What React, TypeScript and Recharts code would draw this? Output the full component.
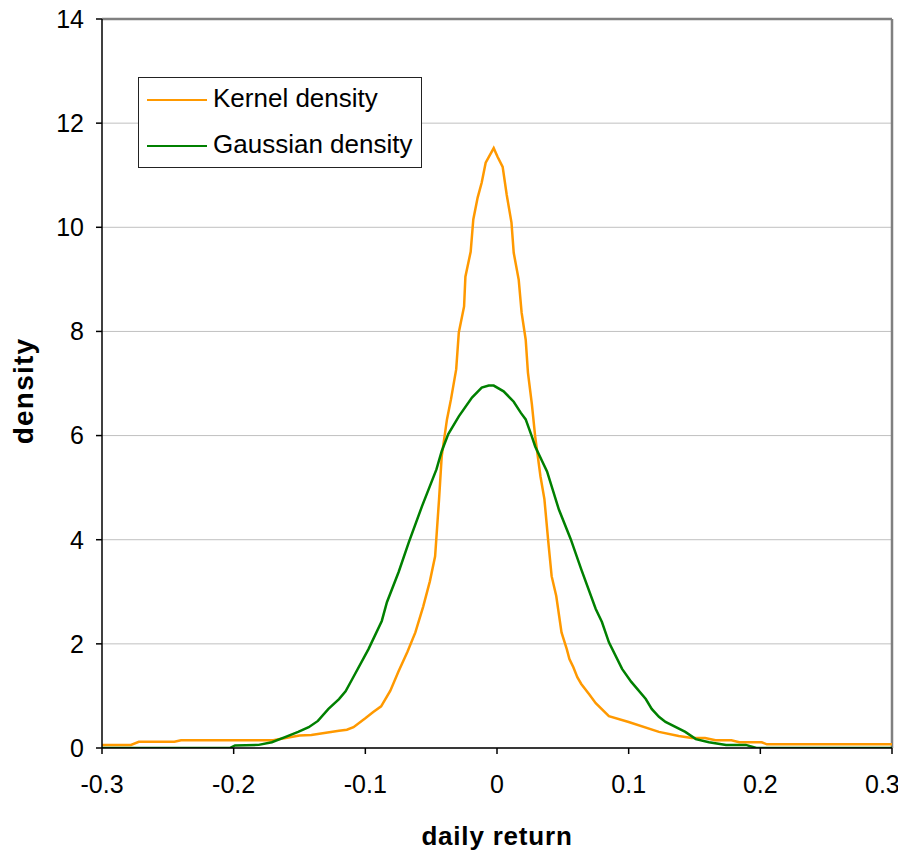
import { LineChart, Line, XAxis, YAxis, CartesianGrid, ReferenceLine, Legend, Label } from "recharts";

// kernel density estimate
const kernelX = [
  -0.3, -0.278, -0.272, -0.245, -0.24, -0.17, -0.15, -0.141, -0.12, -0.114, -0.109, -0.1, -0.094, -0.088,
  -0.081, -0.075, -0.068, -0.062, -0.056, -0.051, -0.047, -0.044, -0.042, -0.038, -0.035, -0.031, -0.029,
  -0.025, -0.024, -0.02, -0.018, -0.0147, -0.0116, -0.0086, -0.0025, 0.0005, 0.0043, 0.0074, 0.011, 0.0127,
  0.0165, 0.0187, 0.0218, 0.0235, 0.0265, 0.029, 0.033, 0.036, 0.039, 0.0415, 0.045, 0.049, 0.053, 0.055,
  0.058, 0.061, 0.064, 0.07, 0.075, 0.085, 0.1, 0.123, 0.138, 0.148, 0.158, 0.166, 0.178, 0.184, 0.201,
  0.205, 0.3,
];
const kernelY = [
  0.06, 0.06, 0.12, 0.12, 0.15, 0.15, 0.24, 0.25, 0.33, 0.35, 0.4, 0.57, 0.69, 0.8,
  1.1, 1.46, 1.85, 2.22, 2.72, 3.2, 3.68, 4.78, 5.6, 6.31, 6.69, 7.27, 7.98,
  8.48, 9.05, 9.53, 10.15, 10.57, 10.86, 11.24, 11.52, 11.35, 11.16, 10.62, 10.09, 9.51,
  8.99, 8.36, 7.84, 7.21, 6.6, 5.98, 5.22, 4.78, 3.95, 3.3, 2.92, 2.22, 1.9, 1.71,
  1.55, 1.36, 1.23, 1.03, 0.86, 0.61, 0.5, 0.31, 0.23, 0.19, 0.19, 0.15, 0.15, 0.11, 0.11,
  0.07, 0.07,
];

// fitted normal density
const gaussX = [
  -0.3, -0.203, -0.199, -0.181, -0.171, -0.161, -0.151, -0.143, -0.136, -0.128, -0.12, -0.115, -0.11,
  -0.0976, -0.0875, -0.0836, -0.0747, -0.067, -0.057, -0.046, -0.042, -0.037, -0.029, -0.019, -0.0116,
  -0.0063, -0.0025, 0.005, 0.0127, 0.018, 0.0218, 0.0265, 0.029, 0.038, 0.047, 0.056, 0.064, 0.075,
  0.0797, 0.085, 0.095, 0.102, 0.113, 0.1175, 0.123, 0.128, 0.143, 0.151, 0.161, 0.174, 0.189, 0.197, 0.3,
];
const gaussY = [
  0, 0, 0.05, 0.06, 0.11, 0.21, 0.31, 0.4, 0.52, 0.75, 0.94, 1.09, 1.32,
  1.9, 2.44, 2.8, 3.38, 3.95, 4.64, 5.35, 5.7, 6.03, 6.37, 6.73, 6.92,
  6.96, 6.96, 6.85, 6.65, 6.44, 6.31, 5.98, 5.79, 5.31, 4.58, 4.01, 3.43, 2.67,
  2.42, 2.03, 1.52, 1.27, 0.94, 0.75, 0.6, 0.5, 0.31, 0.17, 0.11, 0.06, 0.06, 0, 0,
];

const xTicks = [-0.3, -0.2, -0.1, 0, 0.1, 0.2, 0.3];
const yTicks = [0, 2, 4, 6, 8, 10, 12, 14];

const ORANGE = "#FF9900";
const GREEN = "#008000";
const FONT = "'Liberation Sans', Arial, sans-serif";

const kernel = kernelX.map((x, i) => ({ x, y: kernelY[i] }));
const gauss = gaussX.map((x, i) => ({ x, y: gaussY[i] }));

function LegendBox() {
  const swatch = (color: string, top: number) => (
    <div style={{ position: "absolute", left: 8, top, width: 60, height: 2, background: color }} />
  );
  const label = (text: string, top: number) => (
    <span style={{ position: "absolute", left: 74, top, fontSize: 26, lineHeight: 1, whiteSpace: "nowrap", color: "#000" }}>
      {text}
    </span>
  );
  return (
    <div
      style={{
        position: "relative",
        border: "1px solid #222",
        background: "#fff",
        width: 282,
        height: 89,
        fontFamily: FONT,
      }}
    >
      {swatch(ORANGE, 21)}
      {label("Kernel density", 7)}
      {swatch(GREEN, 67)}
      {label("Gaussian density", 53)}
    </div>
  );
}

export default function App() {
  return (
    <div
      style={{
        position: "absolute",
        left: 0,
        top: 0,
        width: 898,
        height: 851,
        overflow: "hidden",
        background: "#fff",
        fontFamily: FONT,
      }}
    >
      <LineChart width={898} height={851} margin={{ top: 19, right: 6, bottom: 0, left: 0 }}>
        <CartesianGrid stroke="#C0C0C0" vertical={false} />
        <XAxis
          type="number"
          dataKey="x"
          domain={[-0.3, 0.3]}
          ticks={xTicks}
          tickFormatter={(v: number) => (v === 0 ? "0" : String(v))}
          height={103}
          allowDataOverflow
          stroke="#000"
          strokeWidth={1.5}
          tickSize={6}
          tickMargin={21}
          tick={{ fill: "#000", fontSize: 25 }}
        >
          <Label
            value="daily return"
            position="insideBottom"
            offset={6}
            style={{ fontSize: 26, fontWeight: "bold", fill: "#000", letterSpacing: 0.8 }}
          />
        </XAxis>
        <YAxis
          type="number"
          dataKey="y"
          domain={[0, 14]}
          ticks={yTicks}
          width={102}
          allowDataOverflow
          stroke="#000"
          strokeWidth={1.5}
          tickSize={6}
          tickMargin={12}
          tick={{ fill: "#000", fontSize: 25 }}
        >
          <Label
            content={() => (
              <text
                x={33}
                y={391}
                transform="rotate(-90, 33, 391)"
                textAnchor="middle"
                style={{ fontSize: 28, fontWeight: "bold", fill: "#000", letterSpacing: 1.2 }}
              >
                density
              </text>
            )}
          />
        </YAxis>
        <ReferenceLine y={14} stroke="#808080" strokeWidth={2.5} />
        <ReferenceLine x={0.3} stroke="#808080" strokeWidth={2.5} />
        <Legend
          layout="vertical"
          verticalAlign="middle"
          align="center"
          content={() => <LegendBox />}
          wrapperStyle={{ left: 138, top: 77, width: "auto", height: "auto" }}
        />
        <Line
          data={kernel}
          dataKey="y"
          name="Kernel density"
          type="linear"
          stroke={ORANGE}
          strokeWidth={2.5}
          dot={false}
          isAnimationActive={false}
        />
        <Line
          data={gauss}
          dataKey="y"
          name="Gaussian density"
          type="linear"
          stroke={GREEN}
          strokeWidth={2.5}
          dot={false}
          isAnimationActive={false}
        />
      </LineChart>
    </div>
  );
}
